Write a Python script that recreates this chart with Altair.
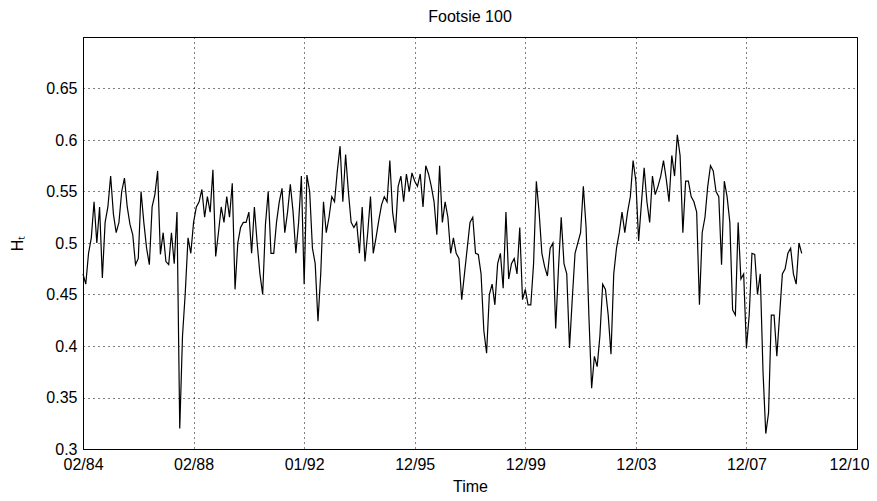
import altair as alt
import pandas as pd

title_text = "Footsie 100"
x_title = "Time"
y_title = "Hₜ"
tick_labels = ["02/84", "02/88", "01/92", "12/95", "12/99", "12/03", "12/07", "12/10"]
x_ticks = [0, 1000, 2000, 3000, 4000, 5000, 6000, 7000]
y_ticks = [0.3, 0.35, 0.4, 0.45, 0.5, 0.55, 0.6, 0.65]
obs_step = 25  # observations between consecutive samples below

h_1984_1988 = [
    0.47, 0.46, 0.49, 0.505, 0.54, 0.50, 0.535, 0.466, 0.52, 0.535,
    0.565, 0.528, 0.51, 0.52, 0.55, 0.563, 0.535, 0.518, 0.508, 0.479,
    0.485, 0.55, 0.52, 0.495, 0.479, 0.535, 0.547, 0.57, 0.489, 0.51,
    0.482, 0.479, 0.51, 0.48,
    0.53, 0.32, 0.41, 0.452, 0.505, 0.49, 0.52, 0.535, 0.54, 0.552,
    0.525, 0.545, 0.53, 0.571, 0.487, 0.51, 0.535, 0.52, 0.545, 0.525,
    0.558, 0.455, 0.50, 0.515, 0.52, 0.52, 0.53, 0.49, 0.535, 0.50,
    0.47, 0.45,
]
h_1992_1999 = [
    0.518, 0.55, 0.49, 0.49, 0.52, 0.54, 0.553, 0.51, 0.53, 0.557,
    0.53, 0.49, 0.52, 0.565, 0.46, 0.566, 0.55, 0.495, 0.48, 0.424,
    0.47, 0.54, 0.51, 0.525, 0.545, 0.54, 0.57, 0.594, 0.54, 0.586,
    0.55, 0.52, 0.515,
    0.52, 0.49, 0.535, 0.482, 0.51, 0.545, 0.49, 0.505, 0.522, 0.537,
    0.545, 0.54, 0.58, 0.53, 0.51, 0.555, 0.565, 0.54, 0.567, 0.55,
    0.568, 0.56, 0.555, 0.567, 0.535, 0.575, 0.567, 0.555, 0.54, 0.508,
    0.575, 0.52,
]
h_1999_2003 = [
    0.54, 0.525, 0.49, 0.505, 0.49, 0.485, 0.445, 0.47, 0.495, 0.52,
    0.525, 0.49, 0.489, 0.47, 0.415, 0.393, 0.45, 0.46, 0.44, 0.48,
    0.49, 0.456, 0.53, 0.465, 0.48, 0.485, 0.47, 0.515, 0.445, 0.455,
    0.44, 0.44, 0.48,
    0.56, 0.53, 0.49, 0.477, 0.468, 0.495, 0.50, 0.417, 0.475, 0.525,
    0.48, 0.47, 0.398, 0.446, 0.49, 0.50, 0.51, 0.555, 0.515, 0.43,
    0.359, 0.39, 0.38, 0.41, 0.46, 0.455, 0.43, 0.392, 0.47, 0.495,
    0.51, 0.53, 0.51,
]
h_2003_2009 = [
    0.53, 0.545, 0.58, 0.56, 0.502, 0.538, 0.573, 0.54, 0.52, 0.565,
    0.547, 0.555, 0.565, 0.58, 0.562, 0.54, 0.585, 0.565, 0.605, 0.585,
    0.51, 0.56, 0.56, 0.545, 0.54, 0.53, 0.44, 0.51, 0.525, 0.555,
    0.575, 0.57,
    0.55, 0.545, 0.479, 0.56, 0.545, 0.52, 0.435, 0.43, 0.52, 0.465,
    0.47, 0.398, 0.43, 0.49, 0.489, 0.45, 0.47, 0.375, 0.315, 0.335,
    0.43, 0.43, 0.39, 0.43, 0.47, 0.475, 0.49, 0.495, 0.47, 0.46,
    0.5, 0.49,
]

h_values = h_1984_1988 + h_1992_1999 + h_1999_2003 + h_2003_2009
df = pd.DataFrame({
    "obs": [i * obs_step for i in range(len(h_values))],
    "H": h_values,
})

label_expr = "[" + ",".join(f"'{s}'" for s in tick_labels) + "][round(datum.value / 1000)]"

FONT = "Liberation Sans"

chart = alt.Chart(df).mark_line(color="black", strokeWidth=1.2).encode(
    x=alt.X(
        "obs:Q",
        scale=alt.Scale(domain=[0, 7000], nice=False, zero=False),
        axis=alt.Axis(
            values=x_ticks, labelExpr=label_expr, title=x_title,
            grid=True, ticks=False, tickSize=0, labelPadding=7,
            titlePadding=6, labelFlush=False, labelOverlap=False,
            labelOffset={"condition": {"test": "datum.value == 7000", "value": -8}, "value": 0},
        ),
    ),
    y=alt.Y(
        "H:Q",
        scale=alt.Scale(domain=[0.3, 0.7], nice=False, zero=False),
        axis=alt.Axis(
            values=y_ticks, format=".2~f", title=y_title,
            grid=True, ticks=False, tickSize=0, labelPadding=6,
            titlePadding=20, labelFlush=False, labelOverlap=False,
        ),
    ),
).properties(
    width=774,
    height=412,
    title=alt.Title(title_text, fontSize=16, fontWeight="normal", font=FONT,
                    color="black", anchor="middle", offset=12),
    padding={"left": 75, "top": 29, "right": 12, "bottom": 50},
    autosize="none",
    background="white",
).configure_axis(
    labelFont=FONT, labelFontSize=16, labelColor="black",
    titleFont=FONT, titleFontSize=16, titleFontWeight="normal", titleColor="black",
    domainColor="black", domainWidth=1,
    gridColor="black", gridDash=[1, 4], gridWidth=1, gridOpacity=1,
).configure_view(
    stroke="black", strokeWidth=1,
)

chart.save("out.html", embed_options={"renderer": "svg", "actions": False})
